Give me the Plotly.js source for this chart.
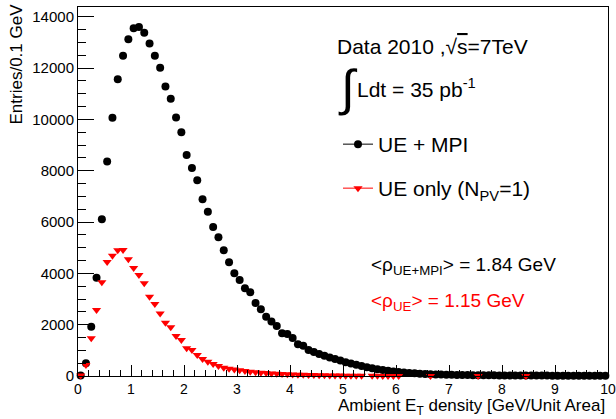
<!DOCTYPE html>
<html>
<head>
<meta charset="utf-8">
<script src="https://cdn.plot.ly/plotly-3.0.1.min.js"></script>
<style>html,body{margin:0;padding:0;background:#fff;}#chart{width:616px;height:419px;}</style>
</head>
<body>
<div id="chart"></div>
<script>
// Histogram binning (bin width 0.1 GeV/Unit Area, from 0 to 10)
const binLow = 0.0;
const binWidth = 0.1;

// UE + MPI (black circles), entries per 0.1 GeV bin
const ueMpiCounts = [
  20, 500, 1920, 3830, 6110, 8360, 10060, 11560, 12480, 13120,
  13550, 13600, 13380, 12960, 12480, 12010, 11280, 10800, 10070, 9500,
  8610, 8110, 7630, 6890, 6400, 5810, 5410, 4900, 4430, 4000,
  3740, 3420, 3260, 2840, 2600, 2310, 2120, 1950, 1670, 1640,
  1480, 1240, 1180, 1010, 940, 860, 790, 720, 660, 600,
  540, 490, 440, 390, 340, 300, 265, 235, 205, 180,
  160, 140, 120, 105, 92, 80, 70, 62, 56, 50,
  46, 42, 39, 36, 33, 31, 29, 27, 25, 24,
  22, 21, 20, 19, 18, 17, 16, 16, 15, 14,
  14, 13, 13, 12, 12, 11, 11, 10, 10, 10
];

// UE only, N_PV = 1 (red triangles); null = empty bin (not drawn)
const ueOnlyCounts = [
  15, 430, 1470, 2570, 3650, 4440, 4690, 4900, 4910, 4550,
  4210, 3940, 3610, 3090, 2810, 2440, 2080, 1900, 1560, 1400,
  1080, 1010, 820, 660, 560, 470, 390, 320, 285, 250,
  220, 195, 170, 150, 130, 115, 100, 88, 78, 68,
  60, 52, 46, 40, 35, 30, 26, 22, 19, 16,
  14, 12, 10, 8, null, 6, 5, 4, 4, 3,
  3, null, null, null, null, null, 1, null, null, null,
  null, null, null, null, null, 1, null, null, null, null,
  null, null, null, null, 1, null, null, null, null, null,
  null, null, null, null, null, null, null, null, null, null
];

const seriesNames = ["UE + MPI", "UE only (N<sub>PV</sub>=1)"];
const meanLabels = ["&lt;ρ<sub>UE+MPI</sub>&gt; = 1.84 GeV", "&lt;ρ<sub>UE</sub>&gt; = 1.15 GeV"];
const xTickVals = [0,1,2,3,4,5,6,7,8,9,10];
const yTickVals = [0,2000,4000,6000,8000,10000,12000,14000];

const binCenters = ueMpiCounts.map((_, i) => +(binLow + binWidth * (i + 0.5)).toFixed(2));

const FONT = "Liberation Sans, Arial, Helvetica, sans-serif";
const RED = "rgb(255,0,0)";

const traces = [
  {
    x: binCenters, y: ueMpiCounts, type: "scatter", mode: "markers",
    marker: {symbol: "circle", size: 8, color: "black"},
    cliponaxis: false, showlegend: false, hoverinfo: "skip"
  },
  {
    x: binCenters, y: ueOnlyCounts, type: "scatter", mode: "markers",
    marker: {symbol: "triangle-down", size: 8, color: RED},
    cliponaxis: false, showlegend: false, hoverinfo: "skip"
  },
  {
    x: [null], y: [null], type: "scatter", mode: "lines+markers", name: seriesNames[0],
    line: {color: "black", width: 1}, marker: {symbol: "circle", size: 8, color: "black"},
    legend: "legend"
  },
  {
    x: [null], y: [null], type: "scatter", mode: "lines+markers", name: seriesNames[1],
    line: {color: RED, width: 1}, marker: {symbol: "triangle-down", size: 8, color: RED},
    legend: "legend2"
  }
];

const L = 78, T = 7, W = 530, H = 369;
const px = v => (v - L) / W;
const py = v => (T + H - v) / H;

const layout = {
  width: 616, height: 419,
  margin: {l: L, r: 616 - L - W, t: T, b: 419 - T - H},
  paper_bgcolor: "white", plot_bgcolor: "white",
  font: {family: FONT, color: "black", size: 14},
  xaxis: {
    range: [0, 10], tickvals: xTickVals, ticks: "inside", ticklen: 11, tickwidth: 1, tickcolor: "black",
    showline: true, linecolor: "black", linewidth: 1, mirror: true, showgrid: false, zeroline: false,
    tickfont: {size: 14, family: FONT}, ticklabeloverflow: "allow",
    minor: {ticks: "inside", ticklen: 6, dtick: 0.2, tickcolor: "black", showgrid: false}
  },
  yaxis: {
    range: [0, 14380], tickvals: yTickVals, tickformat: "d", ticks: "inside", ticklen: 16, tickwidth: 1, tickcolor: "black",
    showline: true, linecolor: "black", linewidth: 1, mirror: true, showgrid: false, zeroline: false,
    tickfont: {size: 15, family: FONT},
    minor: {ticks: "inside", ticklen: 8, dtick: 500, tickcolor: "black", showgrid: false}
  },
  legend: {
    x: px(338), y: py(124), xanchor: "left", yanchor: "top",
    bgcolor: "rgba(0,0,0,0)", font: {size: 21, family: FONT}, itemwidth: 30
  },
  legend2: {
    x: px(338), y: py(168), xanchor: "left", yanchor: "top",
    bgcolor: "rgba(0,0,0,0)", font: {size: 21, family: FONT}, itemwidth: 30
  },
  annotations: [
    {xref: "paper", yref: "paper", x: px(335), y: py(46), xanchor: "left", yanchor: "middle", showarrow: false,
     text: "Data 2010 ,√<span style=\"text-decoration:overline\">s</span>=7TeV", font: {size: 21, family: FONT}},
    {xref: "paper", yref: "paper", x: px(336), y: py(88), xanchor: "left", yanchor: "middle", showarrow: false,
     text: "∫", font: {size: 50, family: FONT}},
    {xref: "paper", yref: "paper", x: px(355), y: py(88), xanchor: "left", yanchor: "middle", showarrow: false,
     text: "Ldt = 35 pb<sup>-1</sup>", font: {size: 21, family: FONT}},
    {xref: "paper", yref: "paper", x: px(369), y: py(266), xanchor: "left", yanchor: "middle", showarrow: false,
     text: meanLabels[0], font: {size: 19, family: FONT, color: "black"}},
    {xref: "paper", yref: "paper", x: px(369), y: py(302), xanchor: "left", yanchor: "middle", showarrow: false,
     text: meanLabels[1], font: {size: 19, family: FONT, color: RED}},
    {xref: "paper", yref: "paper", x: px(16), y: py(2), xanchor: "center", yanchor: "top", showarrow: false,
     textangle: -90, text: "Entries/0.1 GeV", font: {size: 17, family: FONT}},
    {xref: "paper", yref: "paper", x: px(607), y: py(407), xanchor: "right", yanchor: "middle", showarrow: false,
     text: "Ambient E<sub>T</sub> density [GeV/Unit Area]", font: {size: 17, family: FONT}}
  ]
};

Plotly.newPlot("chart", traces, layout, {displayModeBar: false, staticPlot: true});
</script>
</body>
</html>
